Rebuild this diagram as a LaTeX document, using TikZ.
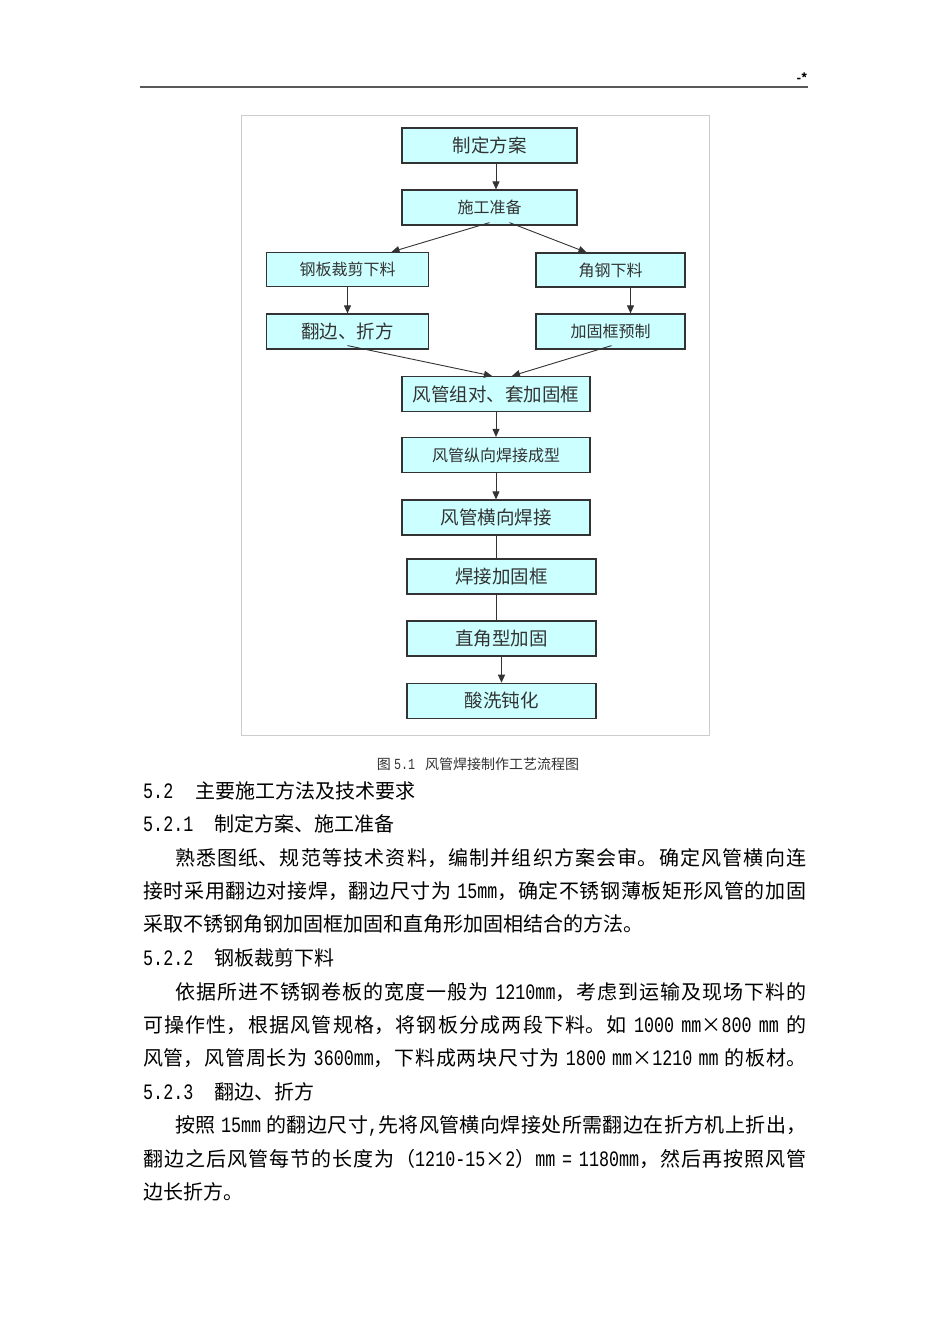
\documentclass[tikz,border=0pt]{standalone}
\usepackage{fontspec}
\setmainfont{Noto Sans CJK SC}
\newfontfamily\latinfont[Scale=1.1, FakeStretch=0.76]{Liberation Mono}
\newcommand\lat[1]{{\latinfont #1}}
\newcommand\fitline[1]{\parfillskip=0pt\relax #1\par}
\XeTeXlinebreaklocale "zh"
\XeTeXlinebreakskip=0pt plus 1pt
\usetikzlibrary{arrows.meta}
\definecolor{boxfill}{RGB}{204,255,255}
\definecolor{ink}{RGB}{51,51,51}

\begin{document}
\begin{tikzpicture}[x=1pt, y=-1pt,
        stepbox/.style={draw=ink, fill=boxfill, line width=1.2pt, inner sep=0pt, text=ink, font=\fontsize{16}{16}\selectfont},
        big/.style={font=\fontsize{18.5}{18.5}\selectfont},
        flow/.style={draw=ink, line width=0.9pt, -{Triangle[width=7pt,length=8pt]}},
        link/.style={draw=ink, line width=0.9pt},
        heading/.style={anchor=west, inner sep=0pt, font=\fontsize{20}{24}\selectfont},
        bodyline/.style={heading, text width=663pt, align=justify},
        indentline/.style={bodyline, text width=631pt},
    ]
    \fill[white] (0,0) rectangle (950,1344);
    \useasboundingbox (0,0) rectangle (950,1344);

    % page header
    \draw[line width=2.5pt, draw=black!65] (140,87) -- (808,87);
    \node[font=\bfseries\fontsize{12}{12}\selectfont, inner sep=0pt] (mark) at (802,78) {-*};

    % flow chart
    \draw[black!20, line width=1pt] (241.5,115.5) rectangle (709.5,735);
    \node[stepbox, big, minimum width=175pt, minimum height=35pt] (plan) at (489.5,145.5) {制定方案};
    \node[stepbox, minimum width=175pt, minimum height=35pt] (prep) at (489.5,207.5) {施工准备};
    \node[stepbox, minimum width=162pt, minimum height=34pt] (cut) at (347.5,269.5) {钢板裁剪下料};
    \node[stepbox, minimum width=149pt, minimum height=34pt] (angle) at (610.5,270) {角钢下料};
    \node[stepbox, big, minimum width=162pt, minimum height=35pt] (fold) at (347.5,331.5) {翻边、折方};
    \node[stepbox, minimum width=149pt, minimum height=35pt] (frame) at (610.5,331.5) {加固框预制};
    \node[stepbox, big, minimum width=188pt, minimum height=35pt] (assemble) at (496,394) {风管组对、套加固框};
    \node[stepbox, minimum width=188pt, minimum height=35pt] (longweld) at (496,455) {风管纵向焊接成型};
    \node[stepbox, big, minimum width=188pt, minimum height=35pt] (crossweld) at (496,517.5) {风管横向焊接};
    \node[stepbox, big, minimum width=189pt, minimum height=35pt] (weldframe) at (501.5,576.5) {焊接加固框};
    \node[stepbox, big, minimum width=189pt, minimum height=35pt] (rightangle) at (501.5,638.5) {直角型加固};
    \node[stepbox, big, minimum width=189pt, minimum height=35pt] (pickle) at (501.5,700.8) {酸洗钝化};

    \draw[flow] ([xshift=6.5pt]plan.south) -- ([xshift=6.5pt]prep.north);
    \draw[flow] ([yshift=3pt]prep.south) -- ([xshift=44pt]cut.north);
    \draw[flow] ([xshift=20pt,yshift=3pt]prep.south) -- ([xshift=-24pt]angle.north);
    \draw[flow] (cut) -- (fold);
    \draw[flow] ([xshift=20pt]angle.south) -- ([xshift=20pt]frame.north);
    \draw[flow] ([yshift=4pt]fold.south) -- ([xshift=-4pt]assemble.north);
    \draw[flow] ([xshift=1pt,yshift=4pt]frame.south) -- ([xshift=16pt]assemble.north);
    \draw[flow] (assemble) -- (longweld);
    \draw[flow] (longweld) -- (crossweld);
    \draw[link] (crossweld.south) -- (crossweld.south |- weldframe.north);
    \draw[link] (crossweld.south |- weldframe.south) -- (crossweld.south |- rightangle.north);
    \draw[flow] (rightangle) -- (pickle);

    % caption and text
    \node[font=\fontsize{14}{14}\selectfont, text=ink, inner sep=0pt] (caption) at (478,764) {图 \lat{5.1}\hspace{10pt}风管焊接制作工艺流程图};
    \node[heading] (h52) at (143,791) {\lat{5.2}\hspace{22pt}主要施工方法及技术要求};
    \node[heading] (h521) at (143,824) {\lat{5.2.1}\hspace{21pt}制定方案、施工准备};
    \node[indentline] (p1a) at (175,858) {\fitline{熟悉图纸、规范等技术资料，编制并组织方案会审。确定风管横向连}};
    \node[bodyline] (p1b) at (143,891) {\fitline{接时采用翻边对接焊，翻边尺寸为 \lat{15mm}，确定不锈钢薄板矩形风管的加固}};
    \node[heading] (p1c) at (143,924) {采取不锈钢角钢加固框加固和直角形加固相结合的方法。};
    \node[heading] (h522) at (143,958) {\lat{5.2.2}\hspace{21pt}钢板裁剪下料};
    \node[indentline] (p2a) at (175,992) {\fitline{依据所进不锈钢卷板的宽度一般为 \lat{1210mm}，考虑到运输及现场下料的}};
    \node[bodyline] (p2b) at (143,1025) {\fitline{可操作性，根据风管规格，将钢板分成两段下料。如 \lat{1000} \lat{mm}×\lat{800} \lat{mm} 的}};
    \node[bodyline] (p2c) at (143,1058) {\fitline{风管，风管周长为 \lat{3600mm}，下料成两块尺寸为 \lat{1800} \lat{mm}×\lat{1210} \lat{mm} 的板材。}};
    \node[heading] (h523) at (143,1092) {\lat{5.2.3}\hspace{21pt}翻边、折方};
    \node[indentline] (p3a) at (175,1126) {\fitline{按照 \lat{15mm} 的翻边尺寸\lat{,}先将风管横向焊接处所需翻边在折方机上折出，}};
    \node[bodyline] (p3b) at (143,1159) {\fitline{翻边之后风管每节的长度为（\lat{1210-15}×\lat{2}）\lat{mm} \lat{=} \lat{1180mm}，然后再按照风管}};
    \node[heading] (p3c) at (143,1192) {边长折方。};
\end{tikzpicture}
\end{document}
